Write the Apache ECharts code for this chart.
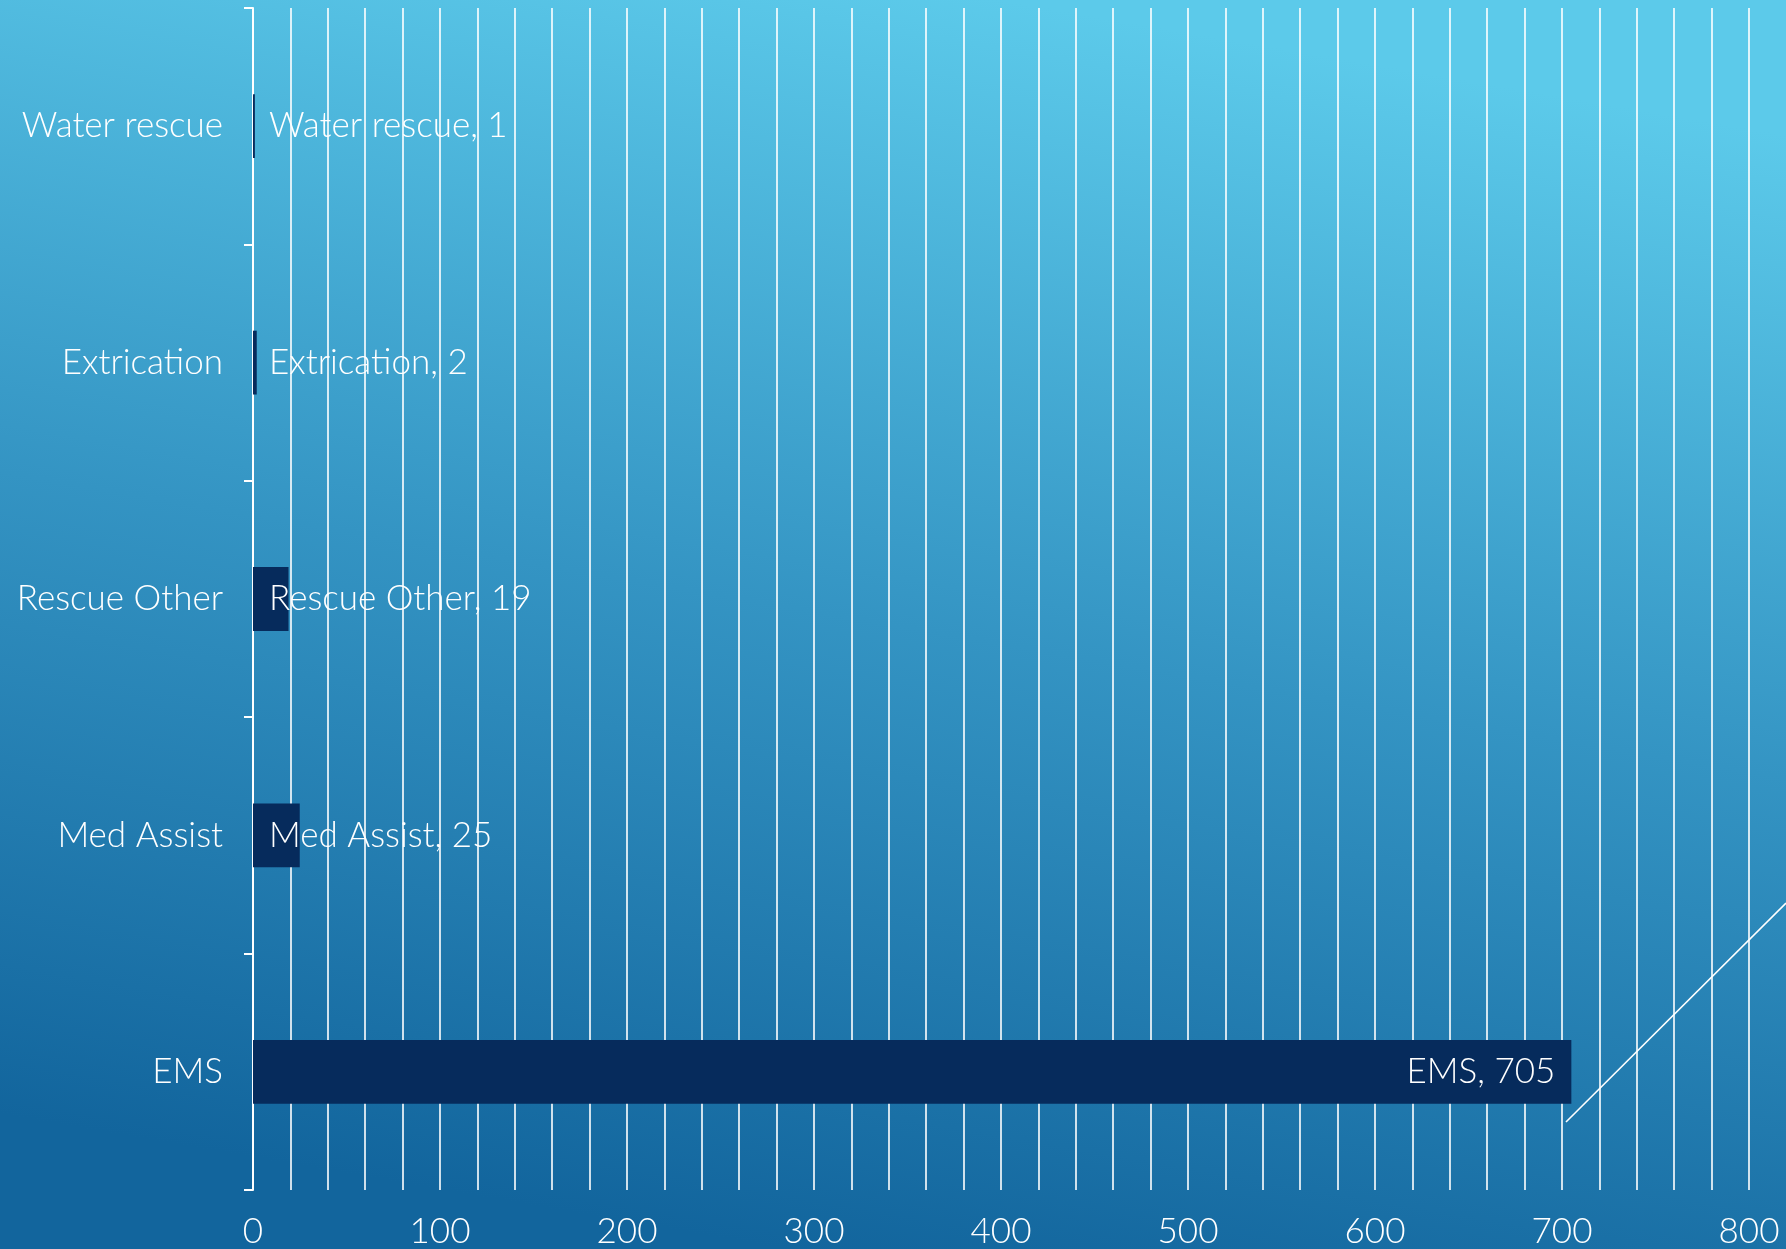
<!DOCTYPE html>
<html>
<head>
<meta charset="utf-8">
<script src="https://cdn.jsdelivr.net/npm/echarts@6/dist/echarts.min.js"></script>
<style>
html,body{margin:0;padding:0;width:1786px;height:1249px;overflow:hidden;}
#chart{width:1786px;height:1249px;}
</style>
</head>
<body>
<div id="chart"></div>
<script>
const categories = ['EMS', 'Med Assist', 'Rescue Other', 'Extrication', 'Water rescue'];
const values = [705, 25, 19, 2, 1];
const xTickLabels = [0, 100, 200, 300, 400, 500, 600, 700, 800];

const FONT = 'Lato';
const WEIGHT = 300;
const SIZE = 35;
const chart = echarts.init(document.getElementById('chart'));
const option = {
  backgroundColor: {
    type: 'linear', x: 0.56, y: 0, x2: 0.44, y2: 1,
    colorStops: [
      { offset: 0, color: '#5CCAEA' },
      { offset: 0.5, color: '#3494C3' },
      { offset: 1, color: '#12659D' }
    ]
  },
  animation: false,
  grid: { left: 253, right: 37, top: 8, bottom: 59, containLabel: false },
  xAxis: {
    type: 'value', min: 0, max: 800, interval: 20,
    axisLine: { show: false },
    axisTick: { show: false },
    splitLine: { show: true, lineStyle: { color: '#ffffff', width: 1.6 } },
    axisLabel: {
      color: '#ffffff', fontFamily: FONT, fontWeight: WEIGHT, fontSize: SIZE, margin: 24,
      formatter: function (v) { return xTickLabels.indexOf(v) >= 0 ? String(v) : ''; }
    }
  },
  yAxis: {
    type: 'category', data: categories,
    axisLine: { show: true, lineStyle: { color: '#ffffff', width: 2 } },
    axisTick: { show: true, length: 9, lineStyle: { color: '#ffffff', width: 2 } },
    axisLabel: { color: '#ffffff', fontFamily: FONT, fontWeight: WEIGHT, fontSize: SIZE, margin: 30 },
    splitLine: { show: false }
  },
  series: [{
    type: 'bar',
    data: values.map(function (v, i) {
      return {
        value: v,
        label: i === 0 ? { position: 'insideRight', distance: 16 } : { position: 'insideLeft', distance: 16 }
      };
    }),
    barWidth: '27%',
    itemStyle: { color: '#062B5C' },
    label: {
      show: true, color: '#ffffff', fontFamily: FONT, fontWeight: WEIGHT, fontSize: SIZE,
      formatter: '{b}, {c}'
    }
  }],
  graphic: [{
    type: 'line', silent: true,
    shape: { x1: 1566, y1: 1122, x2: 1786, y2: 903 },
    style: { stroke: '#ffffff', lineWidth: 1.6 }
  }]
};
chart.setOption(option);
</script>
</body>
</html>
